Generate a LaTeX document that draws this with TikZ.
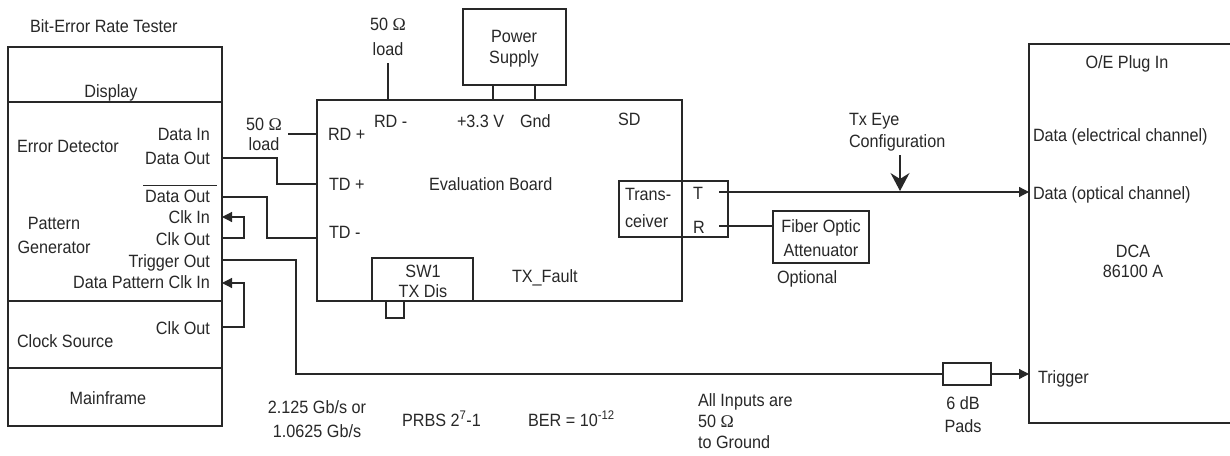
\documentclass[tikz,border=0pt]{standalone}
\usepackage{fontspec}
\setmainfont[FakeStretch=0.91]{Liberation Sans}
\newfontfamily\omgfont{Liberation Serif}
\newcommand{\ohm}{{\omgfont Ω}}
\usetikzlibrary{arrows.meta}
\definecolor{ink}{RGB}{40,40,40}
\begin{document}
\begin{tikzpicture}[x=1pt,y=-1pt,
  box/.style={draw=ink, line width=1.2pt, inner sep=0pt, outer sep=0pt, anchor=north west},
  wire/.style={draw=ink, line width=1.2pt},
  arr/.style={wire, -{Triangle[length=10pt,width=10pt]}},
  lab/.style={inner sep=0pt, outer sep=0pt, text=ink, font=\fontsize{17.8}{22}\selectfont, anchor=base},
  lead/.style={font=\fontsize{17.8}{#1}\selectfont}]
\useasboundingbox (0,0) rectangle (1230,455);
\fill[white] (0,0) rectangle (1230,455);

% ---------- Bit-error rate tester ----------
\node[box, minimum width=214pt, minimum height=379pt] (ber) at (8,47) {};
\draw[wire] (8,102) -- (222,102);
\draw[wire] (8,301) -- (222,301);
\draw[wire] (8,368) -- (222,368);
\node[lab, anchor=base west] (bertitle) at (30,32) {Bit-Error Rate Tester};
\node[lab] (display) at (111,97) {Display};
\node[lab, anchor=base west] (errdet) at (17,152) {Error Detector};
\node[lab, anchor=base east] (datain) at (210,140) {Data In};
\node[lab, anchor=base east] (dataout) at (210,164) {Data Out};
\node[lab, anchor=base east] (dataoutbar) at (210,202) {Data Out};
\draw[wire, line width=1pt] (143,185) -- (217,185);
\node[lab, anchor=base east] (clkin) at (210,223) {Clk In};
\node[lab, anchor=base east] (clkout) at (210,245) {Clk Out};
\node[lab, anchor=base east] (trigout) at (210,267) {Trigger Out};
\node[lab, anchor=base east] (dpclkin) at (210,288) {Data Pattern Clk In};
\node[lab, lead=24, align=center] (patgen) at (54,253) {Pattern\\Generator};
\node[lab, anchor=base west] (clksrc) at (17,347) {Clock Source};
\node[lab, anchor=base east] (csclkout) at (210,334) {Clk Out};
\node[lab] (mainframe) at (108,404) {Mainframe};

% ports on the tester
\coordinate (pDO) at (222,158);
\coordinate (pDOb) at (222,197);
\coordinate (pCI) at (222,217);
\coordinate (pCO) at (222,238);
\coordinate (pTO) at (222,260);
\coordinate (pDPC) at (222,283);
\coordinate (pCS) at (222,327);

% ---------- Evaluation board ----------
\node[box, minimum width=365pt, minimum height=201pt] (board) at (317,100) {};
\node[box, minimum width=103pt, minimum height=76pt] (psu) at (463,9) {};
\node[lab, lead=21, align=center] (psutext) at (514,63) {Power\\Supply};
\node[box, minimum width=101pt, minimum height=43pt] (sw1) at (372,258) {};
\node[lab, lead=20, align=center] (sw1text) at (423,297) {SW1\\TX Dis};
\node[box, minimum width=18pt, minimum height=17pt] (sw1knob) at (386,301) {};
\node[box, minimum width=109pt, minimum height=56pt] (xcvr) at (619,181) {};
\node[lab, lead=27, align=left, anchor=base west] (xcvrtext) at (625,227) {Trans-\\ceiver};
\node[lab, anchor=base west] (tport) at (693,199) {T};
\node[lab, anchor=base west] (rport) at (693,233) {R};

\node[lab, lead=20, align=center] (load1) at (264,150) {50 \ohm\\load};
\node[lab, lead=25, align=center] (load2) at (388,55) {50 \ohm\\load};
\node[lab, anchor=base west] (rdp) at (328,140) {RD +};
\node[lab, anchor=base west] (rdm) at (374,127) {RD -};
\node[lab, anchor=base west] (v33) at (457,127) {+3.3 V};
\node[lab, anchor=base west] (gnd) at (520,127) {Gnd};
\node[lab, anchor=base west] (sd) at (618,125) {SD};
\node[lab, anchor=base west] (tdp) at (329,190) {TD +};
\node[lab, anchor=base west] (evb) at (429,190) {Evaluation Board};
\node[lab, anchor=base west] (tdm) at (329,238) {TD -};
\node[lab, anchor=base west] (txfault) at (512,282) {TX\_Fault};

\coordinate (bRDp) at (317,134);
\coordinate (bTDp) at (317,184);
\coordinate (bTDm) at (317,238);
\coordinate (bRDm) at (388,100);
\coordinate (bV) at (493,100);
\coordinate (bG) at (535,100);
\coordinate (l1end) at (288,134);
\coordinate (l2end) at (388,63);
\coordinate (psV) at (493,85);
\coordinate (psG) at (535,85);

% ---------- attenuator ----------
\node[box, minimum width=96pt, minimum height=52pt] (att) at (773,211) {};
\node[lab, lead=24, align=center] (atttext) at (821,256) {Fiber Optic\\Attenuator};
\node[lab, anchor=base west] (optional) at (777,283) {Optional};
\coordinate (xT) at (719,192);
\coordinate (xR) at (719,226);
\coordinate (attIn) at (773,226);

% ---------- DCA ----------
\coordinate (dcaTR) at (1231,44);
\coordinate (dcaTL) at (1029,44);
\coordinate (dcaBL) at (1029,423);
\coordinate (dcaBR) at (1231,423);
\draw[wire] (dcaTR) -- (dcaTL) -- (dcaBL) -- (dcaBR);
\node[lab] (oe) at (1127,68) {O/E Plug In};
\node[lab, anchor=base west] (delec) at (1033,141) {Data (electrical channel)};
\node[lab, anchor=base west] (dopt) at (1033,199) {Data (optical channel)};
\node[lab, lead=20, align=center] (dca) at (1133,277) {DCA\\86100 A};
\node[lab, anchor=base west] (trig) at (1038,383) {Trigger};
\coordinate (dcaOpt) at (1029,192);
\coordinate (dcaTrig) at (1029,374);

% ---------- pad ----------
\node[box, minimum width=48pt, minimum height=22pt] (pad) at (943,363) {};
\node[lab, lead=23, align=center] (padtext) at (963,432) {6 dB\\Pads};

% ---------- eye annotation ----------
\node[lab, lead=22, align=left, anchor=base west] (eye) at (849,147) {Tx Eye\\Configuration};
\coordinate (eyeStart) at (900,155);
\coordinate (eyeTip) at (900,191);

% ---------- notes ----------
\node[lab, lead=24, align=center] (rate) at (317,437) {2.125 Gb/s or\\1.0625 Gb/s};
\node[lab, anchor=base west] (prbs) at (402,426) {PRBS 2\textsuperscript{7}-1};
\node[lab, anchor=base west] (bertxt) at (528,426) {BER = 10\textsuperscript{-12}};
\node[lab, lead=21, align=left, anchor=base west] (inputs) at (698,448) {All Inputs are\\50 \ohm\\to Ground};

% ---------- connectors ----------
\draw[wire] (pDO) -- ++(55,0) |- (bTDp);
\draw[wire] (pDOb) -- ++(45,0) |- (bTDm);
\draw[arr] (pCO) -- ++(22,0) |- (pCI);
\draw[arr] (pCS) -- ++(22,0) |- (pDPC);
\draw[wire] (pTO) -- ++(74,0) |- (pad.west);
\draw[arr] (pad.east) -- (dcaTrig);
\draw[wire] (l1end) -- (bRDp);
\draw[wire] (l2end) -- (bRDm);
\draw[wire] (psV) -- (bV);
\draw[wire] (psG) -- (bG);
\draw[arr] (xT) -- (dcaOpt);
\draw[wire] (xR) -- (attIn);
\draw[wire, -{Stealth[length=18pt,width=19pt,inset=6pt]}] (eyeStart) -- (eyeTip);
\end{tikzpicture}
\end{document}
